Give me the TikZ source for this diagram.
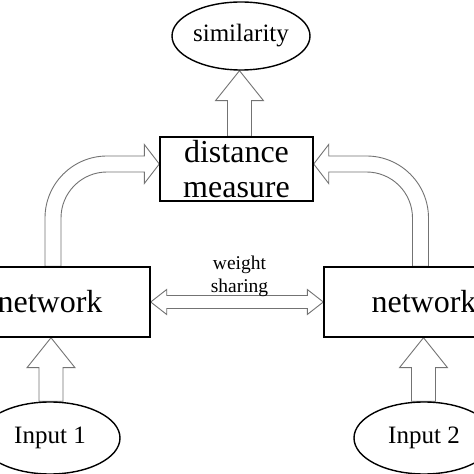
\documentclass[tikz,border=0pt]{standalone}
\usepackage{fontspec}
\setmainfont{Liberation Serif}
\usetikzlibrary{shapes.geometric,calc,backgrounds}
\tikzset{
  box/.style={draw=black,line width=1.4pt,fill=white,rectangle,inner sep=0pt},
  oval/.style={draw=black,line width=1.4pt,fill=white,ellipse,inner sep=0pt},
  fat/.style={draw=black!55,line width=0.9pt,fill=white,line join=miter},
}
\newcommand\fatup[2]{\draw[fat] let \p1=#1,\p2=#2 in
  (\x1-12pt,\y1)--(\x1-12pt,\y2-30pt)--(\x1-24pt,\y2-30pt)--(\x1,\y2)
  --(\x1+24pt,\y2-30pt)--(\x1+12pt,\y2-30pt)--(\x1+12pt,\y1)--cycle;}
\begin{document}
\begin{tikzpicture}[x=1pt,y=1pt]
\useasboundingbox (0,0) rectangle (474,474);
\clip (0,0) rectangle (474,474);
\node[oval,minimum width=138pt,minimum height=68pt,font=\fontsize{25}{28}\selectfont] (sim) at (241,438) {similarity};
\node[box,minimum width=153pt,minimum height=64pt,align=center,font=\fontsize{32}{35}\selectfont] (dist) at (236.5,305) {distance\\measure};
\node[box,minimum width=200pt,minimum height=70pt,font=\fontsize{32}{35}\selectfont] (net1) at (50,172) {network};
\node[box,minimum width=200pt,minimum height=70pt,font=\fontsize{32}{35}\selectfont] (net2) at (424,172) {network};
\node[oval,minimum width=140pt,minimum height=72pt,font=\fontsize{25}{28}\selectfont] (in1) at (50,36) {Input 1};
\node[oval,minimum width=140pt,minimum height=72pt,font=\fontsize{25}{28}\selectfont] (in2) at (424,36) {Input 2};
\node[inner sep=0pt,align=center,font=\fontsize{19.5}{23}\selectfont] (ws) at (239.5,198) {weight\\sharing};
\begin{scope}[on background layer]
\fatup{($(dist.north)+(3,0)$)}{(sim.south)}
\fatup{($(in1.north)+(1,0)$)}{(net1.south)}
\fatup{($(in2.north)+(-0.5,0)$)}{(net2.south)}
\draw[fat] let \p1=(net1.east),\p2=(net2.west) in
  (\x1,\y1)--(\x1+16pt,\y1+12.5pt)--(\x1+16pt,\y1+6.5pt)--(\x2-16pt,\y1+6.5pt)
  --(\x2-16pt,\y1+12.5pt)--(\x2,\y1)--(\x2-16pt,\y1-12.5pt)--(\x2-16pt,\y1-6.5pt)
  --(\x1+16pt,\y1-6.5pt)--(\x1+16pt,\y1-12.5pt)--cycle;
\draw[fat] let \p1=($(net1.north)+(3,0)$),\p2=($(dist.west)+(0,5)$) in
  (\x1-8pt,\y1)--(\x1-8pt,\y2-54pt) arc[start angle=180,end angle=90,radius=62pt]
  --(\x2-15pt,\y2+8pt)--(\x2-15pt,\y2+19.5pt)--(\x2,\y2)--(\x2-15pt,\y2-19.5pt)
  --(\x2-15pt,\y2-8pt)--(\x1+54pt,\y2-8pt) arc[start angle=90,end angle=180,radius=46pt]
  --(\x1+8pt,\y1)--cycle;
\draw[fat] let \p1=($(net2.north)+(-3.5,0)$),\p2=($(dist.east)+(0,5)$) in
  (\x1+8pt,\y1)--(\x1+8pt,\y2-54pt) arc[start angle=0,end angle=90,radius=62pt]
  --(\x2+15pt,\y2+8pt)--(\x2+15pt,\y2+19.5pt)--(\x2,\y2)--(\x2+15pt,\y2-19.5pt)
  --(\x2+15pt,\y2-8pt)--(\x1-54pt,\y2-8pt) arc[start angle=90,end angle=0,radius=46pt]
  --(\x1-8pt,\y1)--cycle;
\end{scope}
\end{tikzpicture}
\end{document}
